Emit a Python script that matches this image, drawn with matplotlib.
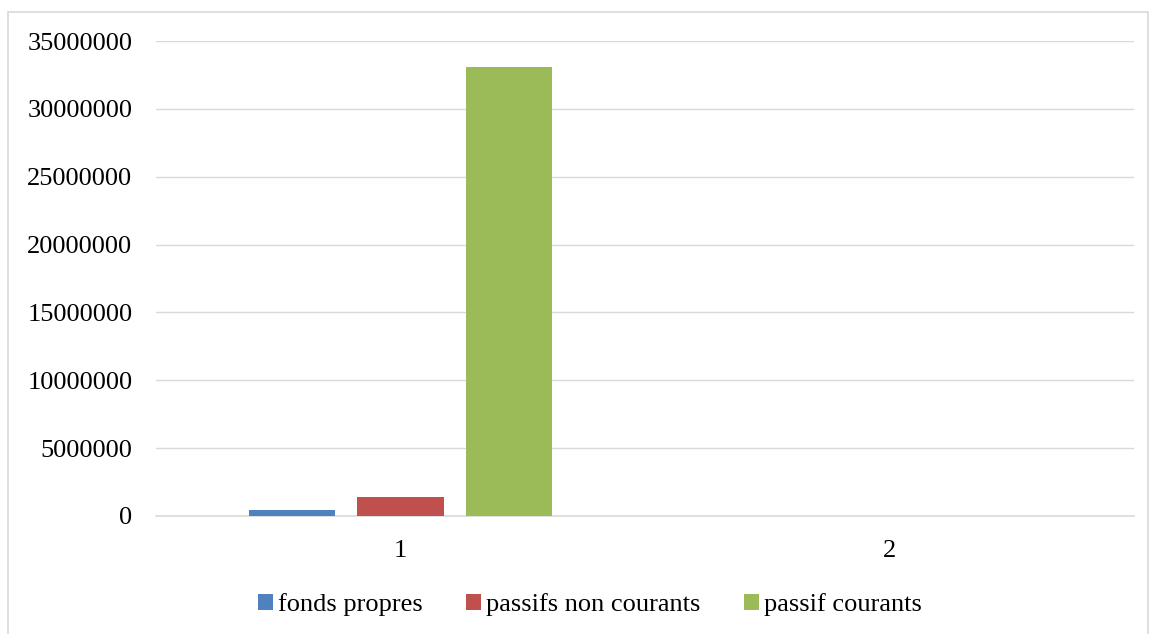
import numpy as np
import matplotlib.pyplot as plt
from matplotlib.patches import Rectangle

# Données du bilan (passif)
categories = ["1", "2"]
fonds_propres = [440000, 0]
passifs_non_courants = [1420000, 0]
passif_courants = [33050000, 0]
series = ["fonds propres", "passifs non courants", "passif courants"]
couleurs = ["#4f81bd", "#c0504d", "#9bbb59"]

plt.rcParams['font.family'] = ['Liberation Serif', 'DejaVu Serif']

fig = plt.figure(figsize=(11.51, 6.34), dpi=100)
W, H = 1151, 634

# Cadre extérieur du graphique
fig.patches.append(Rectangle((8 / W, -0.01), (1148 - 8) / W, 1 - 12 / H + 0.01,
                             transform=fig.transFigure, fill=False,
                             edgecolor="#d9d9d9", linewidth=1.2))

ax = fig.add_axes([156 / W, 1 - 516 / H, (1134 - 156) / W, (516 - 41) / H])

x = np.arange(len(categories))
largeur = 0.176
pas = 0.221
valeurs = [fonds_propres, passifs_non_courants, passif_courants]
for i, (nom, v, c) in enumerate(zip(series, valeurs, couleurs)):
    ax.bar(x + (i - 1) * pas, v, largeur, color=c, label=nom, zorder=3)

ax.set_xlim(-0.5, 1.5)
ax.set_ylim(0, 35000000)
ax.set_yticks(np.arange(0, 35000001, 5000000))
ax.yaxis.set_major_formatter(plt.FuncFormatter(lambda v, p: f"{int(v)}"))
ax.set_xticks(x)
ax.set_xticklabels(categories)
ax.tick_params(axis='both', length=0, labelsize=19, colors="#000000")
ax.tick_params(axis='y', pad=17)
ax.tick_params(axis='x', pad=17)
ax.grid(axis='y', color="#d9d9d9", linewidth=1, zorder=0)
for s in ["top", "right", "left"]:
    ax.spines[s].set_visible(False)
ax.spines["bottom"].set_color("#d9d9d9")
ax.spines["bottom"].set_linewidth(1.2)

fig.legend(loc="center", bbox_to_anchor=(590 / W, 1 - 605 / H), ncol=3,
           frameon=False, fontsize=19, handlelength=0.55, handleheight=0.55,
           handletextpad=0.2, columnspacing=1.65)

fig.savefig("out.png", dpi=100)
